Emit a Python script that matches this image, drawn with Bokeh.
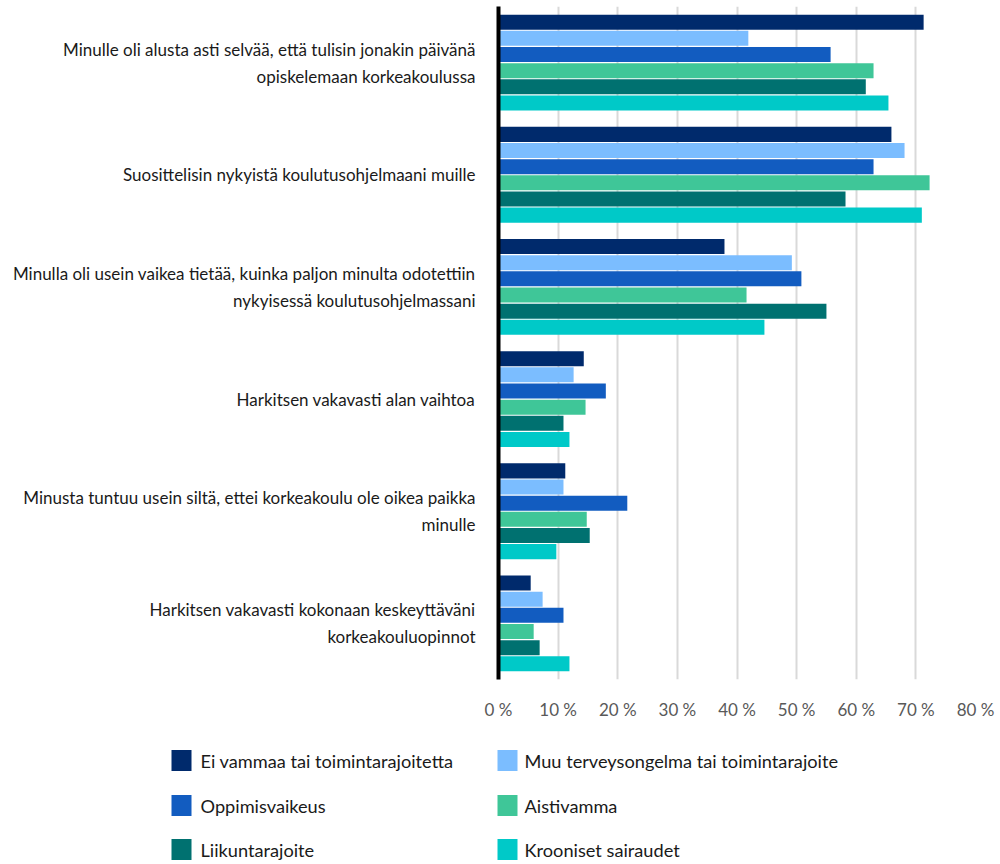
from bokeh.plotting import figure
from bokeh.models import ColumnDataSource, Range1d, FixedTicker, PrintfTickFormatter
from bokeh.transform import dodge
from bokeh.core.properties import value
from bokeh.embed import file_html
from bokeh.resources import INLINE

FONT = "Lato"

categories = [
    "Minulle oli alusta asti selvää, että tulisin jonakin päivänä\nopiskelemaan korkeakoulussa",
    "Suosittelisin nykyistä koulutusohjelmaani muille",
    "Minulla oli usein vaikea tietää, kuinka paljon minulta odotettiin\nnykyisessä koulutusohjelmassani",
    "Harkitsen vakavasti alan vaihtoa",
    "Minusta tuntuu usein siltä, ettei korkeakoulu ole oikea paikka\nminulle",
    "Harkitsen vakavasti kokonaan keskeyttäväni\nkorkeakouluopinnot",
]

series_names = [
    "Ei vammaa tai toimintarajoitetta",
    "Muu terveysongelma tai toimintarajoite",
    "Oppimisvaikeus",
    "Aistivamma",
    "Liikuntarajoite",
    "Krooniset sairaudet",
]

colors = ["#002a6c", "#7bbdff", "#125cc0", "#3fc698", "#007170", "#00c9c8"]

ei_vammaa = [71.3, 65.9, 37.9, 14.3, 11.2, 5.4]
muu_terveysongelma = [41.9, 68.1, 49.2, 12.6, 10.9, 7.4]
oppimisvaikeus = [55.7, 62.9, 50.8, 18.0, 21.6, 10.9]
aistivamma = [62.9, 72.3, 41.6, 14.6, 14.8, 5.9]
liikuntarajoite = [61.6, 58.2, 55.0, 10.9, 15.3, 6.9]
krooniset = [65.4, 71.0, 44.6, 11.9, 9.7, 11.9]

series_values = [ei_vammaa, muu_terveysongelma, oppimisvaikeus, aistivamma, liikuntarajoite, krooniset]

x_ticks = [0, 10, 20, 30, 40, 50, 60, 70, 80]

# ---------------- main chart ----------------
n = len(categories)
centers = [i + 0.5 for i in range(n)]
data = {"y": centers}
for k, vals in enumerate(series_values):
    data[f"s{k}"] = vals
src = ColumnDataSource(data)

p = figure(
    frame_width=477, frame_height=673,
    x_range=Range1d(0, 80), y_range=Range1d(n, 0),
    output_backend="svg", toolbar_location=None,
    min_border_left=498, min_border_right=23, min_border_top=6, min_border_bottom=45,
)
p.outline_line_color = None
p.background_fill_color = "white"

pitch = 0.144
bar_h = 0.134
for k in range(len(series_values)):
    off = (k - 2.5) * pitch
    p.hbar(y=dodge("y", off, range=p.y_range), left=0, right=f"s{k}", height=bar_h,
           source=src, fill_color=colors[k], line_color=None)

# x axis
p.xaxis.ticker = FixedTicker(ticks=x_ticks)
p.xaxis.formatter = PrintfTickFormatter(format="%d %%")
p.xaxis.axis_line_color = None
p.xaxis.major_tick_line_color = None
p.xaxis.minor_tick_line_color = None
p.xaxis.major_label_text_font = FONT
p.xaxis.major_label_text_font_size = "17px"
p.xaxis.major_label_text_color = "#595959"
p.xaxis.major_label_standoff = 13

p.xgrid.ticker = FixedTicker(ticks=x_ticks)
p.xgrid.grid_line_color = "#d9d9d9"
p.xgrid.grid_line_width = 2
p.ygrid.grid_line_color = None

# y axis
p.yaxis.ticker = FixedTicker(ticks=centers)
p.yaxis.major_label_overrides = {c: lab for c, lab in zip(centers, categories)}
p.yaxis.axis_line_color = "black"
p.yaxis.axis_line_width = 4
p.yaxis.major_tick_line_color = None
p.yaxis.minor_tick_line_color = None
p.yaxis.major_label_text_font = FONT
p.yaxis.major_label_text_font_size = "17px"
p.yaxis.major_label_text_color = "#1a1a1a"
p.yaxis.major_label_text_line_height = 1.28
p.yaxis.major_label_standoff = 17

# ---------------- legend (separate root below the chart) ----------------
LW, LH = 998, 136
lg = figure(
    width=LW, height=LH, frame_width=LW, frame_height=LH,
    x_range=Range1d(0, LW), y_range=Range1d(LH, 0),
    x_axis_location=None, y_axis_location=None,
    output_backend="svg", toolbar_location=None, min_border=0,
)
lg.outline_line_color = None
lg.grid.visible = False

col_sq_x = [181, 507]
col_tx_x = [200, 524]
row_y = [36, 81, 125]
lsrc = ColumnDataSource(dict(
    sx=[col_sq_x[i % 2] for i in range(len(series_names))],
    tx=[col_tx_x[i % 2] for i in range(len(series_names))],
    y=[row_y[i // 2] for i in range(len(series_names))],
    name=series_names,
    color=colors,
))
lg.rect(x="sx", y="y", width=20, height=21, fill_color="color", line_color=None, source=lsrc)
lg.text(x="tx", y="y", text="name", text_baseline="middle", text_align="left",
        text_font=value(FONT), text_font_size="18.2px", text_color="#1a1a1a", source=lsrc)

open("out.html", "w").write(file_html([p, lg], INLINE))
